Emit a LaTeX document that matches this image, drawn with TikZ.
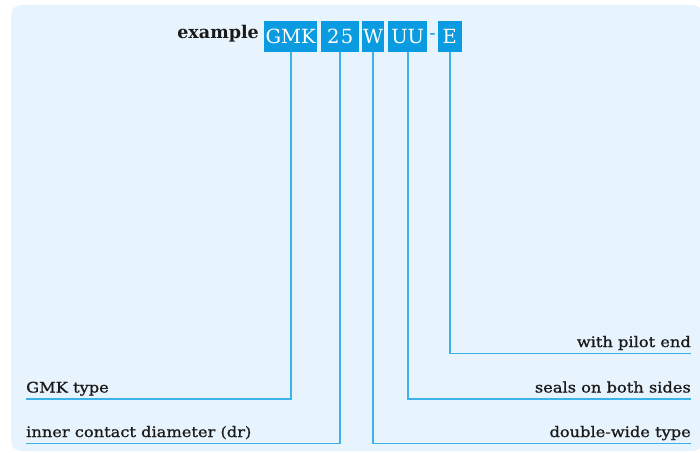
\documentclass[tikz,border=0pt]{standalone}
\usepackage{fontspec}
\setmainfont{DejaVu Serif}
\newfontfamily\lblfont[FakeStretch=1.12,FakeBold=1.0]{DejaVu Serif}
\definecolor{bgc}{HTML}{E8F4FD}
\definecolor{boxc}{HTML}{0A9BE0}
\definecolor{linec}{HTML}{3CB2EA}
\definecolor{txtc}{HTML}{1A1A1A}
\tikzset{
  codebox/.style={fill=boxc, text=white, inner sep=0pt, minimum height=31pt,
    font=\fontsize{19.5}{20}\selectfont, anchor=north west},
  lbl/.style={inner sep=0pt, text=txtc, font=\lblfont\fontsize{14.5}{15}\selectfont},
  conn/.style={draw=linec, line width=1.7pt}
}
\begin{document}
\begin{tikzpicture}[x=1pt,y=-1pt]
\useasboundingbox (0,0) rectangle (700,452);
\fill[bgc, rounded corners=10pt] (11,5) rectangle (703,451);
% title
\node[inner sep=0pt, anchor=base east, font=\bfseries\fontsize{17.5}{18}\selectfont, text=txtc] (ex) at (259,38) {example};
\node[codebox, minimum width=53pt] (gmk) at (264,21) {GMK};
\node[codebox, minimum width=38pt] (dd) at (321,21) {2\kern1.5pt5};
\node[codebox, minimum width=22pt] (w) at (362,21) {W};
\node[codebox, minimum width=39pt] (uu) at (388,21) {UU};
\node[inner sep=0pt, text=boxc, font=\fontsize{19}{19}\selectfont] (dash) at (432.5,37) {-};
\node[codebox, minimum width=24pt] (e) at (437.5,21) {E};
% line end coordinates
\coordinate (gmkend) at (26,399);
\coordinate (ddend) at (26,443.5);
\coordinate (wend) at (691,443.5);
\coordinate (uuend) at (691,399);
\coordinate (eend) at (691,353.5);
% connectors
\draw[conn] (gmk.south) |- (gmkend);
\draw[conn] (dd.south) |- (ddend);
\draw[conn] (w.south) |- (wend);
\draw[conn] (uu.south) |- (uuend);
\draw[conn] (e.south) |- (eend);
% labels
\node[lbl, anchor=base west] (lgmk) at (26,392.5) {GMK type};
\node[lbl, anchor=base west] (ldd) at (26,437) {inner contact diameter (dr)};
\node[lbl, anchor=base east] (lw) at (691,437) {double-wide type};
\node[lbl, anchor=base east] (luu) at (691,392.5) {seals on both sides};
\node[lbl, anchor=base east] (le) at (691,347) {with pilot end};
\end{tikzpicture}
\end{document}
